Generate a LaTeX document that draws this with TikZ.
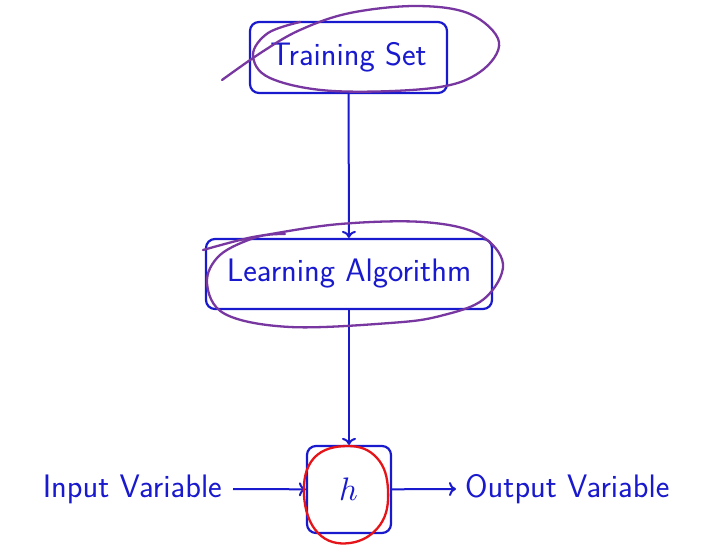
\documentclass[tikz,border=0pt]{standalone}
\usepackage{fontspec}
\usepackage{unicode-math}
\usetikzlibrary{arrows.meta}
\definecolor{bl}{RGB}{25,25,205}
\definecolor{pu}{RGB}{120,55,160}
\definecolor{rd}{RGB}{230,20,25}
\begin{document}
\begin{tikzpicture}[x=1pt,y=-1pt,
  box/.style={draw=bl,line width=2.2pt,rounded corners=9pt,text=bl,font=\sffamily\fontsize{32.5}{38}\selectfont,inner sep=0pt},
  lbl/.style={text=bl,font=\sffamily\fontsize{32.5}{38}\selectfont,inner sep=0pt},
  conn/.style={draw=bl,line width=2pt,-{To[length=7pt,width=14pt]}},
  ink/.style={line width=2.3pt,line cap=round,line join=round}]
\useasboundingbox[fill=white] (0,0) rectangle (720,544);
\node[box,minimum width=197pt,minimum height=71pt] (ts) at (348.5,57.5) {Training Set};
\node[box,minimum width=286pt,minimum height=70pt] (la) at (349,274) {Learning Algorithm};
\node[box,minimum width=84pt,minimum height=87pt] (h) at (349,489.5) {$h$};
\node[lbl,anchor=east] (in) at (222,489) {Input Variable};
\node[lbl,anchor=west] (out) at (465,489) {Output Variable};
\draw[conn] (ts) -- (la);
\draw[conn] (la) -- (h);
\draw[conn] ([xshift=11pt]in.east) -- (h);
\draw[conn] (h) -- ([xshift=-9pt]out.west);
% hand-drawn marks
\draw[ink,pu] plot[smooth,tension=0.6] coordinates {(222,80) (262,52) (300,30) (350,13) (417,6) (470,14) (499,42) (480,72) (433,88) (333,91) (270,78) (253,55) (268,33) (300,22)};
\draw[ink,pu] plot[smooth,tension=0.6] coordinates {(203,250) (240,240) (265,235) (340,224) (423,222) (478,234) (503,264) (484,299) (440,316) (390,323) (290,327) (225,314) (207,283) (220,255) (257,237) (285,234)};
\draw[ink,rd] plot[smooth cycle,tension=0.7] coordinates {(348,446) (377,458) (388,490) (380,525) (350,543) (318,533) (304,495) (314,458)};
\end{tikzpicture}
\end{document}
